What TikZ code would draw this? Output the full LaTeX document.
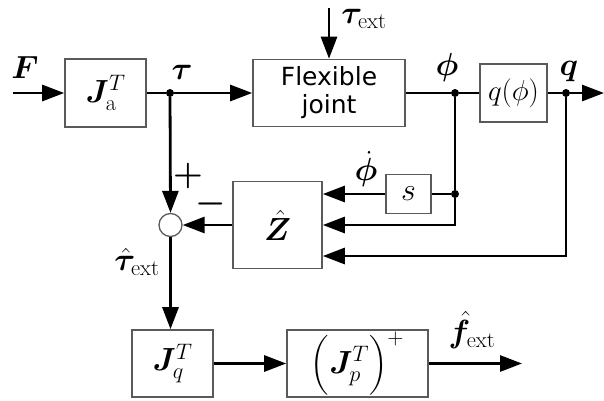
\RequirePackage{fix-cm}
\documentclass[tikz,border=0pt]{standalone}
\usepackage{amsmath,bm}
\usepackage{fontspec}
\newfontfamily\fjfont{DejaVu Sans}
\usetikzlibrary{arrows.meta}
\definecolor{boxgray}{HTML}{5A5A5A}
\tikzset{
  blk/.style={draw=boxgray,line width=1.6pt,rectangle,inner sep=0pt,fill=white},
  sig/.style={line width=2.8pt,-{Triangle[length=22pt,width=16pt]}},
  wire/.style={line width=2.8pt},
  lbl/.style={inner sep=0pt},
  jdot/.style={circle,fill=black,inner sep=0pt,minimum size=8pt},
}
\begin{document}
\begin{tikzpicture}[x=1pt,y=-1pt,font=\fontsize{32}{38}\selectfont]
\useasboundingbox (0,0) rectangle (604,400);
% blocks
\node[blk,minimum width=81pt,minimum height=68pt] (Ja) at (105.5,93) {$\bm{J}_{\mathrm{a}}^{T}$};
\node[blk,minimum width=152pt,minimum height=67pt,align=center,font=\fjfont\fontsize{25}{28}\selectfont] (FJ) at (329,93) {Flexible\\joint};
\node[blk,minimum width=67pt,minimum height=58pt,font=\fontsize{29}{32}\selectfont] (qp) at (513.5,93) {$q(\phi)$};
\node[blk,minimum width=45pt,minimum height=39pt] (s) at (408.5,194) {$s$};
\node[blk,minimum width=89pt,minimum height=87pt] (Z) at (277.5,225) {$\hat{\bm{Z}}$};
\node[draw=boxgray,line width=1.3pt,circle,minimum size=23pt,inner sep=0pt] (sum) at (170.5,225) {};
\node[blk,minimum width=81pt,minimum height=67pt] (Jq) at (172.5,363.5) {$\bm{J}_{q}^{T}$};
\node[blk,minimum width=141pt,minimum height=67pt] (Jp) at (357.5,363.5) {$\Bigl(\bm{J}_{p}^{T}\Bigr)^{+}$};
% coordinates
\coordinate (Fin) at (13,93);
\coordinate (text) at (329,8);
\coordinate (qout) at (604,93);
\coordinate (fout) at (522,363.5);
\node[jdot] (tj) at (170,93) {};
\node[jdot] (pj) at (455,93) {};
\node[jdot] (sj) at (455,194) {};
\node[jdot] (qj) at (566,93) {};
\coordinate (c1) at (455,225);
\coordinate (c2) at (566,256);
% connectors
\draw[sig] (Fin) -- (Ja.west);
\draw[wire] (Ja.east) -- (tj);
\draw[sig] (tj) -- (FJ.west);
\draw[sig] (text) -- (FJ.north);
\draw[wire] (FJ.east) -- (pj) -- (qp.west);
\draw[wire] (qp.east) -- (qj);
\draw[sig] (qj) -- (qout);
\draw[wire] (pj) -- (sj);
\draw[wire] (sj) -- (s.east);
\draw[sig] (s.west) -- (s.west -| Z.east);
\draw[sig] (sj) -- (c1) -- (c1 -| Z.east);
\draw[sig] (qj) -- (c2) -- (c2 -| Z.east);
\draw[sig] (tj) -- (sum.north);
\draw[sig] (Z.west) -- (sum.east);
\draw[sig] (sum.south) -- (sum.south |- Jq.north);
\draw[sig] (Jq.east) -- (Jq.east -| Jp.west);
\draw[sig] (Jp.east) -- (fout);
% labels
\node[lbl] (lF) at (25,68) {$\bm{F}$};
\node[lbl] (ltau) at (182,72) {$\bm{\tau}$};
\node[lbl] (ltext) at (364,19) {$\bm{\tau}_{\mathrm{ext}}$};
\node[lbl] (lphi) at (447,67) {$\bm{\phi}$};
\node[lbl] (lq) at (569,71) {$\bm{q}$};
\node[lbl] (lpd) at (366,169) {$\dot{\bm{\phi}}$};
\node[lbl,font=\fontsize{34}{38}\selectfont] (lplus) at (188,176) {$\bm{+}$};
\node[lbl,font=\fontsize{34}{38}\selectfont] (lminus) at (211,204) {$\bm{-}$};
\node[lbl] (lth) at (137,262) {$\hat{\bm{\tau}}_{\mathrm{ext}}$};
\node[lbl] (lfh) at (472,330) {$\hat{\bm{f}}_{\mathrm{ext}}$};
\end{tikzpicture}
\end{document}
